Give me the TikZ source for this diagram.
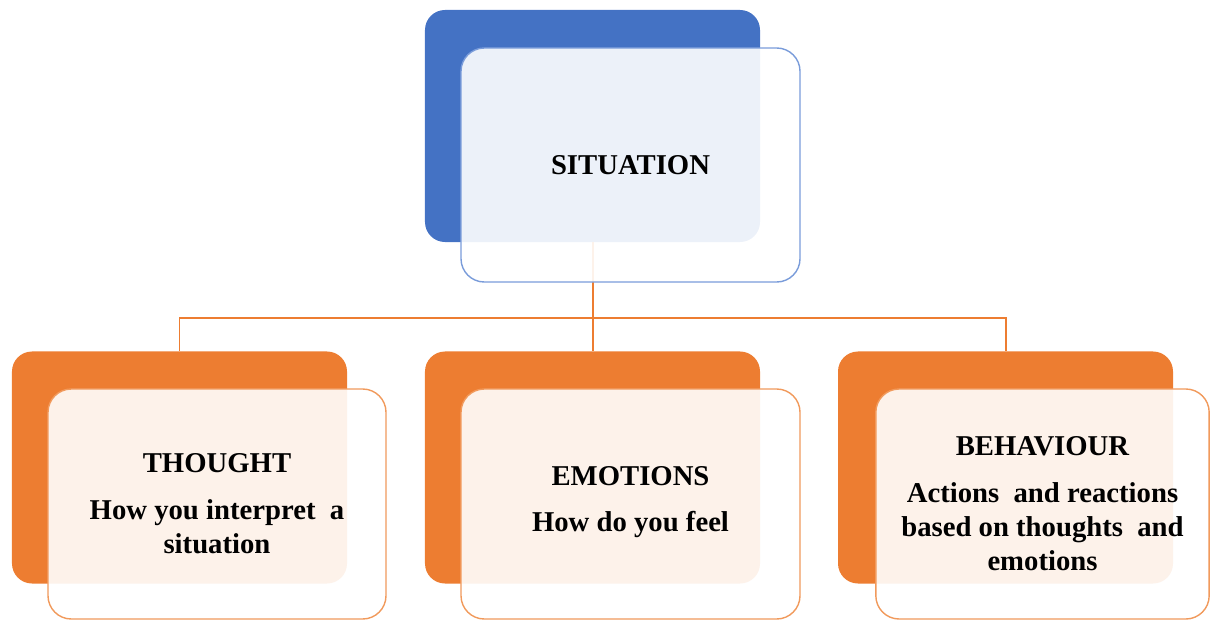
\documentclass[tikz,border=0pt]{standalone}
\usepackage{fontspec}
\setmainfont{Liberation Serif}
\usetikzlibrary{positioning}

\definecolor{sitblue}{HTML}{4472C4}
\definecolor{sitedge}{HTML}{7A9CDA}
\definecolor{cbtorange}{HTML}{ED7D31}
\definecolor{cbtedge}{HTML}{F19A5C}

\begin{document}
\begin{tikzpicture}[x=0.03cm,y=-0.03cm,
    backbox/.style={rectangle,rounded corners=0.6cm,minimum width=10.05cm,minimum height=6.96cm,inner sep=0pt},
    frontbox/.style={rectangle,rounded corners=0.7cm,fill=white,fill opacity=0.9,text opacity=1,line width=1.2pt,align=center,
        font=\bfseries\fontsize{24.5}{29}\selectfont},
    link/.style={draw=cbtorange,line width=1.7pt}]
\useasboundingbox (0,0) rectangle (1210,619);

% back boxes
\node[backbox,fill=sitblue] (SitBack) at (592.5,126) {};
\foreach \x [count=\n] in {179.5,592.5,1005.5}
    \node[backbox,fill=cbtorange] (Back\n) at (\x,467.5) {};

% connectors
\coordinate (bus) at (592.5,318);
\draw[link] (SitBack.south) -- (SitBack.south |- bus) -| (Back1.north);
\draw[link] (SitBack.south |- bus) -| (Back3.north);
\draw[link] (SitBack.south |- bus) -- (Back2.north);

% front boxes
\node[frontbox,draw=sitedge,minimum width=10.17cm,minimum height=7.02cm] (Situation) at (630.5,165) {SITUATION};
\node[frontbox,draw=cbtedge,minimum width=10.14cm,minimum height=6.9cm] (Thought) at (217,504)
    {THOUGHT\\[11pt] How you interpret\ \ a\\ situation};
\node[frontbox,draw=cbtedge,minimum width=10.17cm,minimum height=6.9cm,text depth=0.3cm] (Emotions) at (630.5,504)
    {EMOTIONS\\[11pt] How do you feel};
\node[frontbox,draw=cbtedge,minimum width=10.0cm,minimum height=6.9cm] (Behaviour) at (1042.5,504)
    {BEHAVIOUR\\[11pt] Actions\ \ and reactions\\ based on thoughts\ \ and\\ emotions};
\end{tikzpicture}
\end{document}
